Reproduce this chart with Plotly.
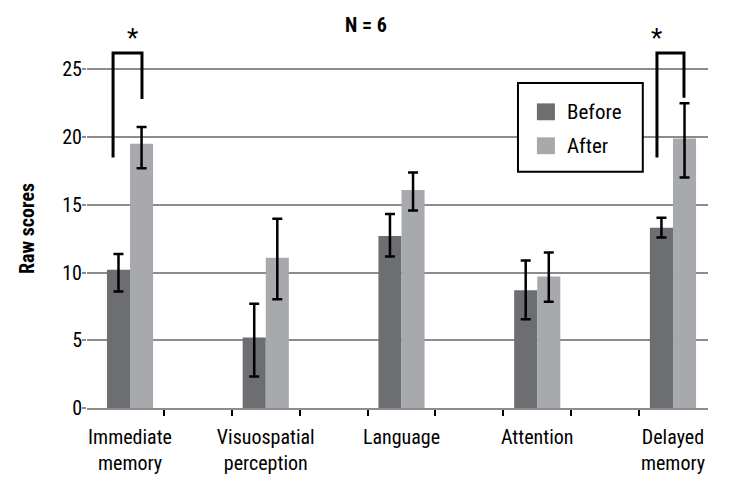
import plotly.graph_objects as go

categories = ["Immediate<br>memory", "Visuospatial<br>perception", "Language", "Attention", "Delayed<br>memory"]
before_vals = [10.2, 5.2, 12.7, 8.7, 13.3]
before_err_plus = [1.17, 2.5, 1.62, 2.18, 0.74]
before_err_minus = [1.6, 2.88, 1.52, 2.14, 0.71]
after_vals = [19.5, 11.1, 16.1, 9.7, 19.9]
after_err_plus = [1.24, 2.87, 1.28, 1.77, 2.59]
after_err_minus = [1.8, 3.08, 1.52, 1.85, 2.89]
y_ticks = [0, 5, 10, 15, 20, 25]
series_names = ["Before", "After"]

# significance brackets: (category index, left offset, right offset, left-leg bottom, right-leg bottom, top)
sig_brackets = [(0, -0.125, 0.088, 18.5, 22.8, 26.2), (4, -0.118, 0.081, 18.5, 22.9, 26.2)]
sig_star_x = [0.02, 3.88]
sig_star_y = 27.3

C_BEFORE = "#6d6e71"
C_AFTER = "#a7a9ac"
GRID = "#8c8c8c"
FONT = "Liberation Sans Narrow, Arial Narrow, Roboto Condensed, sans-serif"

Y_MAX = 26.5
x = list(range(len(categories)))

fig = go.Figure()
fig.add_trace(go.Bar(
    x=x, y=before_vals, name=series_names[0], marker=dict(color=C_BEFORE, line=dict(width=0)),
    error_y=dict(type="data", symmetric=False, array=before_err_plus, arrayminus=before_err_minus,
                 color="black", thickness=2.5, width=5),
    showlegend=False,
))
fig.add_trace(go.Bar(
    x=x, y=after_vals, name=series_names[1], marker=dict(color=C_AFTER, line=dict(width=0)),
    error_y=dict(type="data", symmetric=False, array=after_err_plus, arrayminus=after_err_minus,
                 color="black", thickness=2.5, width=5),
    showlegend=False,
))

shapes = []
for ci, lo, ro, lb, rb, top in sig_brackets:
    shapes.append(dict(type="path", xref="x", yref="y",
                       path=f"M {ci+lo},{lb} L {ci+lo},{top} L {ci+ro},{top} L {ci+ro},{rb}",
                       line=dict(color="black", width=3), layer="above"))

# manual legend box
lx0, lx1, ly0, ly1 = 0.694, 0.895, 0.658, 0.905
shapes.append(dict(type="rect", xref="paper", yref="paper", x0=lx0, x1=lx1, y0=ly0, y1=ly1,
                   fillcolor="white", line=dict(color="black", width=2), layer="above"))
sw_x0, sw_x1 = 0.7245, 0.7535
for i, col in enumerate([C_BEFORE, C_AFTER]):
    yc = 0.825 - i * 0.0945
    shapes.append(dict(type="rect", xref="paper", yref="paper", x0=sw_x0, x1=sw_x1,
                       y0=yc - 0.0235, y1=yc + 0.0235, fillcolor=col, line=dict(width=0), layer="above"))

annotations = []
for i, name in enumerate(series_names):
    yc = 0.825 - i * 0.0945
    annotations.append(dict(x=0.769, y=yc, xref="paper", yref="paper", text=name, showarrow=False,
                            xanchor="left", yanchor="middle", font=dict(size=21, color="black", family=FONT)))
for sx in sig_star_x:
    annotations.append(dict(x=sx, y=sig_star_y / Y_MAX, xref="x", yref="paper", text="*", showarrow=False,
                            xanchor="center", yanchor="middle", font=dict(size=26, color="black", family=FONT)))

fig.update_layout(
    width=738, height=495,
    margin=dict(l=79, r=38, t=41, b=94.5),
    paper_bgcolor="white", plot_bgcolor="white",
    barmode="group", bargap=0.66, bargroupgap=0,
    title=dict(text="<b>N = 6</b>", x=0.485, xanchor="center", y=0.965, yanchor="middle",
               font=dict(size=20, color="black", family=FONT)),
    font=dict(family=FONT, color="black", size=20),
    shapes=shapes, annotations=annotations,
    xaxis=dict(range=[-0.317, 4.258], tickmode="array", tickvals=x, ticktext=categories,
               ticks="", showgrid=False, zeroline=False, showline=True, linecolor=GRID, linewidth=2,
               automargin=False, ticklabelstandoff=10, tickfont=dict(size=20, family=FONT, color="black"),
               minor=dict(tickmode="array", tickvals=[0.25 + 0.5 * k for k in range(8)],
                          ticks="outside", ticklen=6, tickwidth=2, tickcolor="black", showgrid=False)),
    yaxis=dict(range=[0, Y_MAX], tickmode="array", tickvals=y_ticks, showgrid=True, gridcolor=GRID,
               gridwidth=2, zeroline=False, showline=False, ticks="outside", ticklen=4, tickcolor=GRID,
               tickwidth=2, automargin=False, ticklabelstandoff=-4,
               tickfont=dict(size=20, family=FONT, color="black"),
               title=dict(text="<b>Raw scores</b>", font=dict(size=20, family=FONT, color="black"), standoff=22)),
)

fig.write_html("out.html")
